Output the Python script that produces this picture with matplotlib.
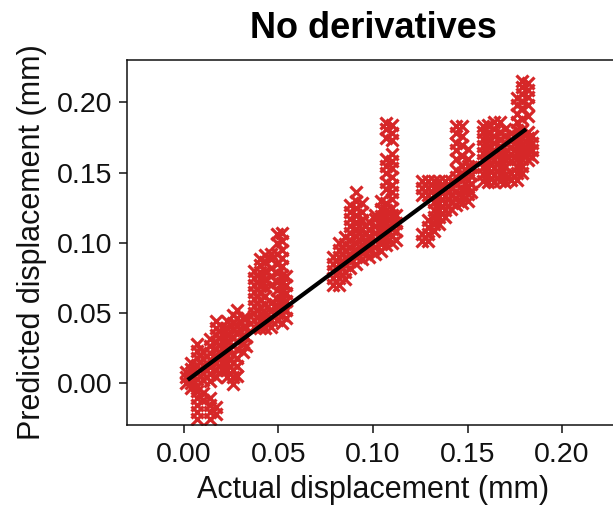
import matplotlib.pyplot as plt
import numpy as np

plt.rcParams['font.family'] = ['Liberation Sans', 'DejaVu Sans']

# scatter, column by column: x position and the y values in it
col_x = [0.001, 0.004, 0.007, 0.010, 0.014, 0.017, 0.020, 0.023, 0.026, 0.028, 0.031, 0.033,
         0.037, 0.040, 0.043, 0.046, 0.049, 0.052, 0.054,
         0.079, 0.082, 0.085, 0.088, 0.091, 0.094, 0.096,
         0.098, 0.101, 0.104, 0.107, 0.110, 0.112,
         0.126, 0.129, 0.132, 0.135, 0.138, 0.141, 0.144, 0.147, 0.150, 0.152,
         0.158, 0.161, 0.164, 0.167, 0.170, 0.173, 0.176, 0.179, 0.182, 0.184]
col_y = [
    [0.000, 0.004, 0.008],
    [-0.004, 0.000, 0.005, 0.010, 0.014],
    [-0.026, -0.021, -0.016, -0.011, -0.006, -0.002, 0.003, 0.008, 0.013, 0.018, 0.023, 0.028],
    [-0.012, -0.007, 0.002, 0.007, 0.012, 0.017, 0.022],
    [-0.026, -0.021, -0.016, -0.011, 0.001, 0.006, 0.011, 0.016, 0.021, 0.026, 0.031],
    [-0.022, -0.017, 0.004, 0.009, 0.014, 0.019, 0.024, 0.029, 0.034, 0.039, 0.044],
    [0.010, 0.015, 0.020, 0.025, 0.030, 0.035, 0.040],
    [0.004, 0.009, 0.014, 0.019, 0.024, 0.029, 0.034, 0.039, 0.044],
    [-0.001, 0.004, 0.009, 0.014, 0.020, 0.026, 0.032, 0.038, 0.043, 0.048],
    [0.005, 0.012, 0.018, 0.024, 0.030, 0.036, 0.041, 0.046, 0.052],
    [0.022, 0.028, 0.034, 0.040, 0.046],
    [0.026, 0.033, 0.040, 0.046],
    [0.040, 0.045, 0.050, 0.055, 0.060, 0.065, 0.070, 0.075, 0.080],
    [0.039, 0.044, 0.049, 0.054, 0.059, 0.064, 0.069, 0.074, 0.079, 0.084, 0.088],
    [0.039, 0.044, 0.050, 0.056, 0.062, 0.068, 0.074, 0.080, 0.086, 0.091],
    [0.040, 0.045, 0.051, 0.057, 0.070, 0.076, 0.082, 0.088, 0.092],
    [0.045, 0.050, 0.055, 0.060, 0.066, 0.072, 0.078, 0.085, 0.092, 0.100, 0.106],
    [0.043, 0.048, 0.053, 0.059, 0.065, 0.071, 0.077, 0.083, 0.089, 0.095, 0.101, 0.107],
    [0.046, 0.052, 0.058, 0.064, 0.070, 0.076],
    [0.070, 0.075, 0.080, 0.085, 0.090],
    [0.070, 0.075, 0.080, 0.085, 0.090, 0.095, 0.100],
    [0.074, 0.079, 0.084, 0.089, 0.094, 0.099, 0.104],
    [0.082, 0.087, 0.092, 0.097, 0.102, 0.107, 0.112, 0.117, 0.122, 0.127],
    [0.085, 0.090, 0.095, 0.100, 0.105, 0.110, 0.115, 0.120, 0.125, 0.130, 0.136],
    [0.088, 0.093, 0.098, 0.104, 0.110, 0.116, 0.122, 0.128],
    [0.094, 0.100, 0.106, 0.112],
    [0.090, 0.095, 0.100, 0.105, 0.110, 0.115],
    [0.092, 0.097, 0.102, 0.107, 0.112, 0.117, 0.120],
    [0.094, 0.099, 0.104, 0.109, 0.114, 0.119, 0.124, 0.130],
    [0.098, 0.103, 0.108, 0.113, 0.118, 0.123, 0.128, 0.138, 0.143, 0.150, 0.155, 0.160,
     0.175, 0.181, 0.185],
    [0.100, 0.105, 0.110, 0.115, 0.120, 0.125, 0.131, 0.136, 0.141, 0.147, 0.153, 0.158,
     0.163, 0.173, 0.178, 0.184],
    [0.102, 0.108, 0.114, 0.120],
    [0.101, 0.106, 0.134, 0.139, 0.144],
    [0.101, 0.106, 0.111, 0.116, 0.134, 0.139, 0.144],
    [0.108, 0.113, 0.118, 0.123, 0.129, 0.134, 0.139, 0.144],
    [0.113, 0.118, 0.123, 0.128, 0.133, 0.138, 0.144],
    [0.118, 0.123, 0.128, 0.133, 0.138, 0.144],
    [0.124, 0.129, 0.134, 0.139, 0.144],
    [0.127, 0.132, 0.137, 0.142, 0.147, 0.152, 0.160, 0.166, 0.171, 0.178, 0.183],
    [0.128, 0.133, 0.138, 0.145, 0.150, 0.155, 0.162, 0.170, 0.176, 0.183],
    [0.130, 0.135, 0.140, 0.145, 0.150, 0.155, 0.160, 0.167],
    [0.136, 0.142, 0.148, 0.154],
    [0.144, 0.149, 0.154, 0.159, 0.164, 0.169, 0.174, 0.179, 0.183],
    [0.143, 0.148, 0.153, 0.158, 0.163, 0.168, 0.173, 0.178, 0.184],
    [0.143, 0.148, 0.153, 0.160, 0.166, 0.171, 0.176, 0.181, 0.186],
    [0.144, 0.149, 0.154, 0.159, 0.164, 0.169, 0.174, 0.179, 0.186],
    [0.143, 0.148, 0.155, 0.160, 0.165, 0.171, 0.176, 0.181],
    [0.145, 0.150, 0.158, 0.163, 0.168, 0.173, 0.178],
    [0.145, 0.150, 0.155, 0.160, 0.165, 0.170, 0.175, 0.180, 0.186, 0.192, 0.198, 0.203],
    [0.150, 0.155, 0.160, 0.165, 0.170, 0.175, 0.180, 0.188, 0.196, 0.201, 0.206, 0.211, 0.215],
    [0.159, 0.163, 0.167, 0.171, 0.175, 0.179, 0.190, 0.198, 0.204, 0.209, 0.214],
    [0.161, 0.166, 0.171, 0.176],
]

# fitted line
fit_x = [0.002, 0.181]
fit_y = [0.002, 0.181]

ticks = [0.00, 0.05, 0.10, 0.15, 0.20]
tick_labels = ['0.00', '0.05', '0.10', '0.15', '0.20']

xs = np.concatenate([[cx] * len(cy) for cx, cy in zip(col_x, col_y)])
ys = np.concatenate(col_y)

fig = plt.figure(figsize=(6.13, 5.09), dpi=100)
ax = fig.add_axes([0.2075, 0.1654, 0.802, 0.7159])

ax.plot(xs, ys, 'x', color='#d62728', markersize=8, markeredgewidth=2.3, zorder=2)
ax.plot(fit_x, fit_y, color='black', lw=3, solid_capstyle='butt', zorder=3)

ax.set_xlim(-0.03, 0.23)
ax.set_ylim(-0.03, 0.23)
ax.set_xticks(ticks)
ax.set_xticklabels(tick_labels)
ax.set_yticks(ticks)
ax.set_yticklabels(tick_labels)
ax.tick_params(direction='out', length=5.5, width=1.1, labelsize=20.5, colors='#111111')
ax.tick_params(axis='x', pad=7)
ax.tick_params(axis='y', pad=5)
for s in ax.spines.values():
    s.set_linewidth(1.1)
    s.set_color('#111111')

ax.set_xlabel('Actual displacement (mm)', fontsize=22, color='#111111', labelpad=5)
ax.set_ylabel('Predicted displacement (mm)', fontsize=22, color='#111111', labelpad=7)
ax.set_title('No derivatives', fontsize=26, fontweight='bold', pad=16, color='black')

fig.savefig('out.png', dpi=100)
